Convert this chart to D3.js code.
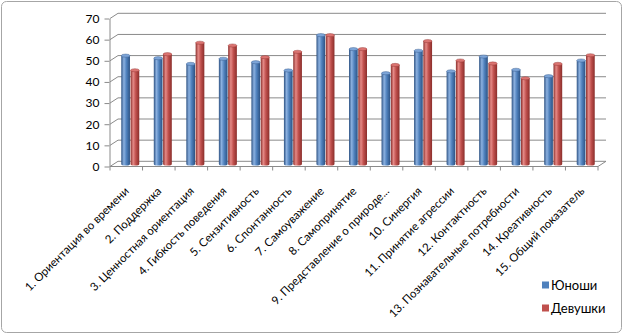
<!DOCTYPE html>
<html>
<head>
<meta charset="utf-8">
<script src="https://cdn.jsdelivr.net/npm/d3@7/dist/d3.min.js"></script>
<style>
  html, body { margin: 0; padding: 0; background: #fff; }
  svg { display: block; }
  text { font-family: Lato, "Noto Sans", sans-serif; fill: #000; }
</style>
</head>
<body>
<svg id="chart" width="624" height="335"></svg>
<script>
const categories = [
  "1. Ориентация во времени",
  "2. Поддержка",
  "3. Ценностная ориентация",
  "4. Гибкость поведения",
  "5. Сензитивность",
  "6. Спонтанность",
  "7. Самоуважение",
  "8. Самопринятие",
  "9. Представление о природе...",
  "10. Синергия",
  "11. Принятие агрессии",
  "12. Контактность",
  "13. Познавательные потребности",
  "14. Креативность",
  "15. Общий показатель"
];
const seriesNames = ["Юноши", "Девушки"];
const boys  = [51.2, 50.0, 47.3, 49.7, 48.1, 44.2, 60.9, 54.3, 42.9, 53.5, 43.8, 50.8, 44.5, 41.5, 48.9];
const girls = [44.3, 51.9, 57.3, 56.0, 50.5, 53.0, 60.9, 54.3, 46.8, 58.1, 48.9, 47.5, 40.5, 47.3, 51.4];
const yTicks = [0, 10, 20, 30, 40, 50, 60, 70];

const colors = {
  "Юноши":   { base: "#4F81BD", light: "#8cb1e0", dark: "#2d5283", top: "#7da5d8" },
  "Девушки": { base: "#C0504D", light: "#e58a87", dark: "#8a2e2b", top: "#db7471" }
};

const svg = d3.select("#chart");

// outer frame
svg.append("rect")
  .attr("x", 1.5).attr("y", 1.5).attr("width", 620).attr("height", 331)
  .attr("rx", 5).attr("fill", "#fff").attr("stroke", "#a6a6a6").attr("stroke-width", 1);

// front plane of the 3-D box and the depth shift to the back wall
const front = { left: 110, right: 598, bottom: 166.5, top: 18.5 };
const depth = { dx: 8, dy: -5.2 };

const x = d3.scaleBand().domain(categories).range([front.left, front.right]);
const xs = d3.scaleBand().domain(seriesNames).range([0, 18.6]);
const y = d3.scaleLinear().domain([0, 70]).range([front.bottom, front.top]);

const gridColor = "#8a8a8a";

// gridlines on the back wall and left side wall
const grid = svg.append("g").attr("stroke", gridColor).attr("stroke-width", 1).attr("fill", "none");
yTicks.forEach(v => {
  const yf = y(v), yb = y(v) + depth.dy;
  grid.append("path")
    .attr("d", `M${front.left},${yf}L${front.left + depth.dx},${yb}L${front.right + depth.dx},${yb}`);
});
// floor front edge and right edge
grid.append("path")
  .attr("d", `M${front.left},${y(0)}L${front.right},${y(0)}L${front.right + depth.dx},${y(0) + depth.dy}`);

// y axis on the front-left edge
const yAxis = svg.append("g")
  .attr("transform", `translate(${front.left - 0.5},0)`)
  .call(d3.axisLeft(y).tickValues(yTicks).tickSize(5).tickSizeOuter(0).tickPadding(5));
yAxis.select(".domain").attr("stroke", gridColor);
yAxis.selectAll(".tick line").attr("stroke", gridColor);
yAxis.selectAll(".tick text")
  .style("font-family", "Lato, 'Noto Sans', sans-serif").style("font-size", "12px").attr("fill", "#000");

// category axis on the front floor edge
const xAxis = svg.append("g")
  .attr("transform", `translate(0,${y(0)})`)
  .call(d3.axisBottom(x).tickSize(0).tickSizeOuter(0).tickFormat(""));
xAxis.select(".domain").remove();
// boundary ticks between categories
const bounds = categories.map(c => x(c)).concat([front.right]);
xAxis.selectAll("line.bound").data(bounds).join("line")
  .attr("class", "bound")
  .attr("x1", d => d).attr("x2", d => d).attr("y1", 0).attr("y2", 4)
  .attr("stroke", gridColor);
xAxis.selectAll(".tick text").remove();
xAxis.selectAll(".tick").append("text")
  .attr("text-anchor", "end")
  .attr("transform", "translate(0.5,22.5) rotate(-45)")
  .attr("dy", "0.35em")
  .style("font-size", "11.5px")
  .attr("fill", "#000")
  .text(d => d);

// gradients for cylindrical columns
const defs = svg.append("defs");
seriesNames.forEach((s, i) => {
  const c = colors[s];
  const g = defs.append("linearGradient").attr("id", "grad" + i)
    .attr("x1", "0%").attr("x2", "100%").attr("y1", "0%").attr("y2", "0%");
  g.append("stop").attr("offset", "0%").attr("stop-color", c.dark);
  g.append("stop").attr("offset", "30%").attr("stop-color", c.light);
  g.append("stop").attr("offset", "60%").attr("stop-color", c.base);
  g.append("stop").attr("offset", "100%").attr("stop-color", c.dark);
});

// columns stand at mid depth
const mid = { dx: depth.dx / 2, dy: depth.dy / 2 };
const barW = xs.bandwidth() - 0.6;
const ry = 1.6;
const rows = categories.map((c, i) => ({ c, vals: [boys[i], girls[i]] }));

const bars = svg.append("g");
rows.forEach(r => {
  r.vals.forEach((v, si) => {
    const s = seriesNames[si];
    const cx = x(r.c) + x.bandwidth() / 2 - xs.bandwidth() + xs(s) + xs.bandwidth() / 2 + mid.dx;
    const yTop = y(v) + mid.dy;
    const yBot = y(0) + mid.dy;
    const rx = barW / 2;
    bars.append("path")
      .attr("d", `M${cx - rx},${yTop}L${cx - rx},${yBot}A${rx},${ry} 0 0 0 ${cx + rx},${yBot}L${cx + rx},${yTop}Z`)
      .attr("fill", `url(#grad${si})`);
    bars.append("ellipse")
      .attr("cx", cx).attr("cy", yTop).attr("rx", rx).attr("ry", ry)
      .attr("fill", colors[s].top).attr("stroke", colors[s].dark).attr("stroke-width", 0.4);
  });
});

// legend
const legend = svg.append("g").attr("transform", "translate(542,0)");
seriesNames.forEach((s, i) => {
  const ly = 285 + i * 23;
  legend.append("rect").attr("x", 0).attr("y", ly - 3.5).attr("width", 7).attr("height", 7)
    .attr("fill", colors[s].base);
  legend.append("text").attr("x", 9).attr("y", ly).attr("dy", "0.35em")
    .style("font-size", "13px").text(s);
});
</script>
</body>
</html>
